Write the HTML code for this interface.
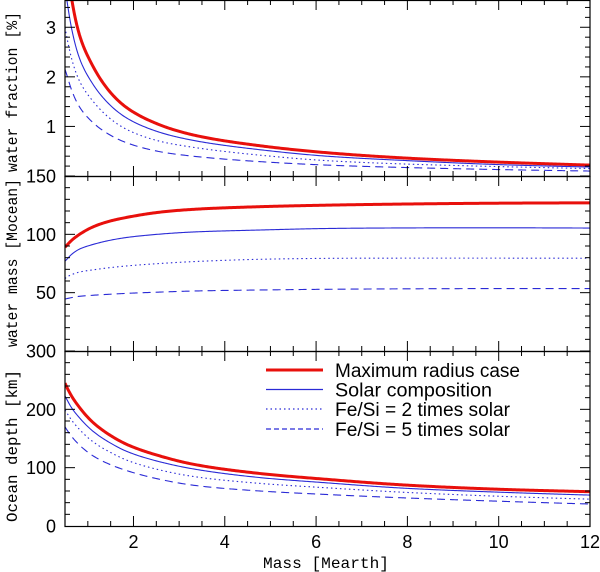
<!DOCTYPE html>
<html><head><meta charset="utf-8"><style>
html,body{margin:0;padding:0;background:#fff;}
svg{display:block;}
text{font-family:"Liberation Sans",sans-serif;}
.mono{font-family:"Liberation Mono",monospace;}
</style></head><body>
<svg id="chart" width="600" height="572" viewBox="0 0 600 572" xmlns="http://www.w3.org/2000/svg"></svg>
<script>
// ---- data ----
const massGrid = [0.5, 0.54, 0.65, 0.8, 1.12, 1.5, 1.85, 2.58, 3.3, 4.77, 6.23, 8, 10, 12];
// top panel: water fraction [%]
const fracMax   = [4.6, 4.3, 3.55, 2.9, 2.2, 1.68, 1.38, 1.03, 0.83, 0.61, 0.47, 0.36, 0.28, 0.22];
const fracSolar = [3.8, 3.55, 2.95, 2.42, 1.84, 1.42, 1.17, 0.88, 0.72, 0.53, 0.40, 0.31, 0.23, 0.18];
const fracFe2   = [3.0, 2.8, 2.35, 1.95, 1.5, 1.15, 0.94, 0.70, 0.58, 0.42, 0.31, 0.24, 0.19, 0.15];
const fracFe5   = [2.15, 2.04, 1.72, 1.42, 1.07, 0.82, 0.67, 0.49, 0.40, 0.29, 0.22, 0.17, 0.13, 0.10];
// middle panel: water mass [Mocean]
const massMax   = [89, 90.6, 95, 99.5, 106.5, 111.5, 114.5, 119, 121.4, 123.7, 125, 126, 126.7, 127];
const massSolar = [77, 78.6, 83, 87, 91.4, 95, 97.3, 100.2, 102, 103.7, 105, 105.5, 105.6, 105.4];
const massFe2   = [62, 63.4, 65.5, 67.5, 69.6, 71.5, 72.9, 75, 76.6, 78.6, 79.4, 79.6, 79.6, 79.5];
const massFe5   = [44.5, 44.9, 45.8, 46.8, 47.8, 48.7, 49.4, 50.5, 51.4, 52.3, 52.9, 53.3, 53.5, 53.5];
// bottom panel: ocean depth [km]
const depthMax   = [245, 238, 222, 205, 177, 155, 140, 120, 106, 90, 80, 70, 63, 58.8];
const depthSolar = [223, 217, 202, 187, 162, 142, 128, 110, 98, 83, 74, 64.5, 58, 53];
const depthFe2   = [199, 194, 181, 167, 144, 126, 113, 96, 85, 73, 65.5, 57.5, 51, 46];
const depthFe5   = [170, 165, 153, 140, 120, 105, 95, 80, 70, 60, 54, 48, 42.5, 37.7];
const xTicks = [2, 4, 6, 8, 10, 12];
const legendLabels = ["Maximum radius case", "Solar composition", "Fe/Si = 2 times solar", "Fe/Si = 5 times solar"];

// ---- layout ----
const svg = document.getElementById('chart');
const NS = 'http://www.w3.org/2000/svg';
const X0 = 65, X1 = 590, XMIN = 0.5, XMAX = 12;
const xs = m => X0 + (m - XMIN) / (XMAX - XMIN) * (X1 - X0);
const panels = [
  {name:'water-fraction', top:0, bot:176, min:0, max:3.55, major:1, minor:0.2, labels:[1,2,3], title:'water fraction [%]', tc:92, tl:160,
   series:[fracMax, fracSolar, fracFe2, fracFe5]},
  {name:'water-mass', top:176, bot:351, min:0, max:150, major:50, minor:10, labels:[50,100,150], title:'water mass [Mocean]', tc:263, tl:168,
   series:[massMax, massSolar, massFe2, massFe5]},
  {name:'ocean-depth', top:351, bot:526, min:0, max:300, major:100, minor:20, labels:[0,100,200,300], title:'Ocean depth [km]', tc:446, tl:152,
   series:[depthMax, depthSolar, depthFe2, depthFe5]}
];
const styles = [
  {stroke:'#e8100c', w:3, dash:null, name:'maximum-radius'},
  {stroke:'#2a2ad6', w:1.1, dash:null, name:'solar-composition'},
  {stroke:'#2a2ad6', w:1.1, dash:'1.5,3', name:'fe-si-2x'},
  {stroke:'#2a2ad6', w:1.1, dash:'8,5', name:'fe-si-5x'}
];
function el(tag, attrs, parent){const e=document.createElementNS(NS,tag);for(const k in attrs)e.setAttribute(k,attrs[k]);(parent||svg).appendChild(e);return e;}

function sampler(xsArr0, ys){
  const xsArr=xsArr0.map(Math.log);
  const n=xsArr.length, d=[], m=new Array(n);
  for(let i=0;i<n-1;i++) d.push((ys[i+1]-ys[i])/(xsArr[i+1]-xsArr[i]));
  m[0]=d[0]; m[n-1]=d[n-2];
  for(let i=1;i<n-1;i++) m[i]=(d[i-1]*d[i]<=0)?0:(d[i-1]+d[i])/2;
  for(let i=0;i<n-1;i++){ if(d[i]===0){m[i]=m[i+1]=0;continue;} const a=m[i]/d[i],b=m[i+1]/d[i],s=a*a+b*b; if(s>9){const t=3/Math.sqrt(s);m[i]=t*a*d[i];m[i+1]=t*b*d[i];}}
  return x0=>{const x=Math.log(x0);let i=0;while(i<n-2&&x>xsArr[i+1])i++;const h=xsArr[i+1]-xsArr[i],t=(x-xsArr[i])/h,t2=t*t,t3=t2*t;
    return (2*t3-3*t2+1)*ys[i]+(t3-2*t2+t)*h*m[i]+(-2*t3+3*t2)*ys[i+1]+(t3-t2)*h*m[i+1];};
}

const defs = el('defs',{});
panels.forEach((p,pi)=>{
  const ys = v => p.bot - (v - p.min)/(p.max - p.min)*(p.bot - p.top);
  const g = el('g',{});
  
  
  const cp = el('clipPath',{id:'clip'+pi},defs);
  el('rect',{x:X0,y:p.top,width:X1-X0,height:p.bot-p.top},cp);
  p.series.forEach((vals,si)=>{
    const f = sampler(massGrid, vals);
    let d='';
    for(let k=0;k<=400;k++){const m=XMIN+(XMAX-XMIN)*k/400;d+=(k?'L':'M')+xs(m).toFixed(2)+','+ys(f(m)).toFixed(2);}
    const st=styles[si];
    const path=el('path',{d:d,fill:'none',stroke:st.stroke,'stroke-width':st.w,'clip-path':'url(#clip'+pi+')'},g);
    if(st.dash) path.setAttribute('stroke-dasharray',st.dash);
    
    
  });
  const fr=el('rect',{x:X0,y:p.top+0.5,width:X1-X0,height:p.bot-p.top,fill:'none',stroke:'#000','stroke-width':1.2},g);
  
  
  for(let m=1;m<=12;m+=0.5){const x=xs(m),L=(m%2===0)?10:5;
    el('line',{x1:x,x2:x,y1:p.bot,y2:p.bot-L,stroke:'#000','stroke-width':1},g);
    el('line',{x1:x,x2:x,y1:p.top,y2:p.top+L,stroke:'#000','stroke-width':1},g);}
  const nMinor=Math.round((p.max-p.min)/p.minor);
  for(let k=1;k<=nMinor;k++){const v=p.min+k*p.minor; if(v>p.max)break; const y=ys(v);
    const isMaj=Math.abs(v/p.major-Math.round(v/p.major))<1e-6, L=isMaj?10:5;
    el('line',{x1:X0,x2:X0+L,y1:y,y2:y,stroke:'#000','stroke-width':1},g);
    el('line',{x1:X1,x2:X1-L,y1:y,y2:y,stroke:'#000','stroke-width':1},g);}
  p.labels.forEach(v=>{const t=el('text',{x:56,y:ys(v)+6.5,'text-anchor':'end','font-size':18,fill:'#000'},g);t.textContent=v;
    
    });
  const tt=el('text',{x:0,y:0,class:'mono','font-size':16,'text-anchor':'middle',textLength:p.tl,lengthAdjust:'spacingAndGlyphs',fill:'#000',transform:'translate(17,'+p.tc+') rotate(-90)'},g);
  tt.textContent=p.title;
  
  
});
xTicks.forEach(m=>{const t=el('text',{x:xs(m),y:548,'text-anchor':'middle','font-size':18,fill:'#000'});t.textContent=m;
  
  });
const xt=el('text',{x:326,y:568,'text-anchor':'middle',class:'mono','font-size':16,textLength:126,lengthAdjust:'spacingAndGlyphs',fill:'#000'});
xt.textContent='Mass [Mearth]';


const lg=el('g',{});


const ly=[370,389.5,409,429];
const lw=[185,157,175,175];
legendLabels.forEach((lab,i)=>{const st=styles[i];
  const ln=el('line',{x1:266,x2:323,y1:ly[i],y2:ly[i],stroke:st.stroke,'stroke-width':st.w===3?3:1.3},lg);
  if(st.dash) ln.setAttribute('stroke-dasharray', i===2?'1.5,3':'5,3');
  
  
  const t=el('text',{x:335,y:ly[i]+7,'font-size':19,textLength:lw[i],lengthAdjust:'spacingAndGlyphs',fill:'#000'},lg);t.textContent=lab;
  
  });
</script>
</body></html>
